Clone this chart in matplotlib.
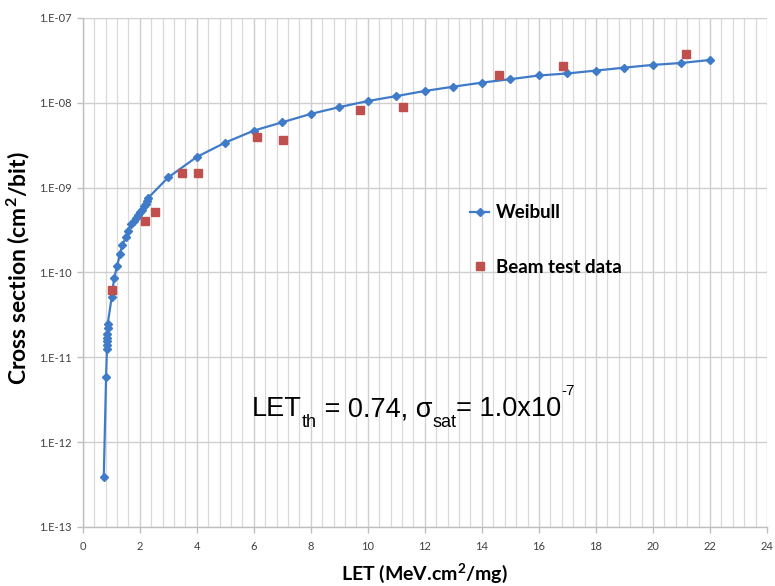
import math
import matplotlib
matplotlib.use("Agg")
import matplotlib.pyplot as plt
from matplotlib.ticker import FixedLocator, MultipleLocator, FuncFormatter

# Weibull fit curve (LET in MeV.cm2/mg, cross section in cm2/bit)
weibull_let = [0.74, 0.82, 0.85, 0.855, 0.86, 0.865, 0.87, 0.875, 0.88,
               1.02, 1.10, 1.21, 1.31, 1.39, 1.51, 1.60, 1.71, 1.80, 1.87,
               1.94, 2.01, 2.08, 2.15, 2.22, 2.27, 2.30,
               3.0, 4.0, 5.0, 6.0, 7.0, 8.0, 9.0, 10.0, 11.0, 12.0, 13.0,
               14.0, 15.0, 16.0, 17.0, 18.0, 19.0, 20.0, 21.0, 22.0]
weibull_xs = [3.9e-13, 5.8e-12, 1.26e-11, 1.4e-11, 1.55e-11, 1.7e-11, 1.9e-11,
              2.2e-11, 2.5e-11,
              5.2e-11, 8.5e-11, 1.2e-10, 1.66e-10, 2.1e-10, 2.6e-10, 3.1e-10,
              3.7e-10, 4.1e-10, 4.4e-10, 4.8e-10, 5.1e-10, 5.5e-10, 6.0e-10,
              6.5e-10, 7.0e-10, 7.6e-10,
              1.32e-9, 2.3e-9, 3.4e-9, 4.7e-9, 5.9e-9, 7.4e-9, 8.9e-9, 1.05e-8,
              1.2e-8, 1.38e-8, 1.55e-8, 1.73e-8, 1.9e-8, 2.1e-8, 2.22e-8,
              2.4e-8, 2.6e-8, 2.8e-8, 2.95e-8, 3.2e-8]

# Heavy-ion beam measurements
beam_let = [1.04, 2.19, 2.55, 3.49, 4.03, 6.1, 7.03, 9.73, 11.25, 14.6, 16.85, 21.17]
beam_xs = [6.3e-11, 4.1e-10, 5.1e-10, 1.5e-9, 1.48e-9, 4.0e-9, 3.6e-9,
           8.3e-9, 8.9e-9, 2.15e-8, 2.7e-8, 3.8e-8]

x_ticks = list(range(0, 25, 2))
y_decades = [1e-13, 1e-12, 1e-11, 1e-10, 1e-9, 1e-8, 1e-7]

line_blue = "#3F7BC9"
beam_red = "#C0504D"
grid_gray = "#D9D9D9"

W, H = 775, 586
fig = plt.figure(figsize=(W / 100, H / 100), dpi=100)
ax = fig.add_axes([0.1067, 0.1007, 0.883, 0.8686])

ax.set_yscale("log")
ax.set_xlim(0, 24)
ax.set_ylim(1e-13, 1e-7)

ax.plot(weibull_let, weibull_xs, color=line_blue, lw=1.6, marker="D",
        ms=4.2, mec=line_blue, mfc=line_blue, label="Weibull", zorder=3)
ax.plot(beam_let, beam_xs, ls="none", marker="s", ms=6.0, color=beam_red,
        label="Beam test data", zorder=4)

# grid: decades horizontally, 0.4 steps vertically
ax.xaxis.set_major_locator(FixedLocator(x_ticks))
ax.xaxis.set_minor_locator(MultipleLocator(0.4))
ax.yaxis.set_major_locator(FixedLocator(y_decades))
ax.yaxis.set_minor_locator(FixedLocator([]))
ax.grid(True, which="major", axis="both", color="#CFCFCF", lw=1.0)
ax.grid(True, which="minor", axis="x", color=grid_gray, lw=0.9)
ax.set_axisbelow(True)


def sci_label(v, pos):
    exp = int(round(math.log10(v)))
    return "1.E%s%02d" % ("-" if exp < 0 else "+", abs(exp))


ax.yaxis.set_major_formatter(FuncFormatter(sci_label))

for side in ("top", "right"):
    ax.spines[side].set_visible(False)
for side in ("left", "bottom"):
    ax.spines[side].set_color("#BFBFBF")
    ax.spines[side].set_linewidth(1.0)

ax.tick_params(axis="both", which="major", length=4, width=1.0,
               color="#BFBFBF", labelsize=8, labelcolor="#404040")
ax.tick_params(axis="x", which="minor", length=0)
ax.tick_params(axis="x", pad=6)
ax.tick_params(axis="y", pad=4)
for lbl in ax.get_xticklabels() + ax.get_yticklabels():
    lbl.set_fontfamily("Lato")

ax.set_xlabel("LET (MeV.cm$\\mathregular{^2}$/mg)", fontsize=14,
              fontweight="bold", fontfamily="Lato")
ax.set_ylabel("Cross section (cm$\\mathregular{^2}$/bit)", fontsize=16.5,
              fontweight="bold", fontfamily="Lato")
ax.xaxis.set_label_coords(0.5, -0.068)
ax.yaxis.set_label_coords(-0.074, 0.509)

leg = ax.legend(loc="center left", frameon=False,
                prop={"family": "Lato", "weight": "bold", "size": 13.5},
                handlelength=1.0, handletextpad=0.35, labelspacing=2.0,
                borderpad=0)
leg.set_bbox_to_anchor((461 / W, 1 - 240 / H), transform=fig.transFigure)

# fit parameters, composed piece by piece so the sub/superscripts sit low/high
main_size = 19.5
sub_size = 13
sup_size = 11
txt_kw = dict(family="Liberation Sans", color="black", va="baseline")
x0 = 252 / W
base = 1 - 416 / H
pieces = [("LET", main_size, 0), ("th", sub_size, -11), (" = 0.74, \u03c3", main_size, 0),
          ("sat", sub_size, -11), ("= 1.0x10", main_size, 0), ("-7", sup_size, 21)]
fig.canvas.draw()
renderer = fig.canvas.get_renderer()
cursor = x0
for s, size, dy in pieces:
    t = fig.text(cursor, base + dy / H, s, fontsize=size, ha="left", **txt_kw)
    bb = t.get_window_extent(renderer)
    cursor += bb.width / W

fig.savefig("out.png", dpi=100, facecolor="white")
